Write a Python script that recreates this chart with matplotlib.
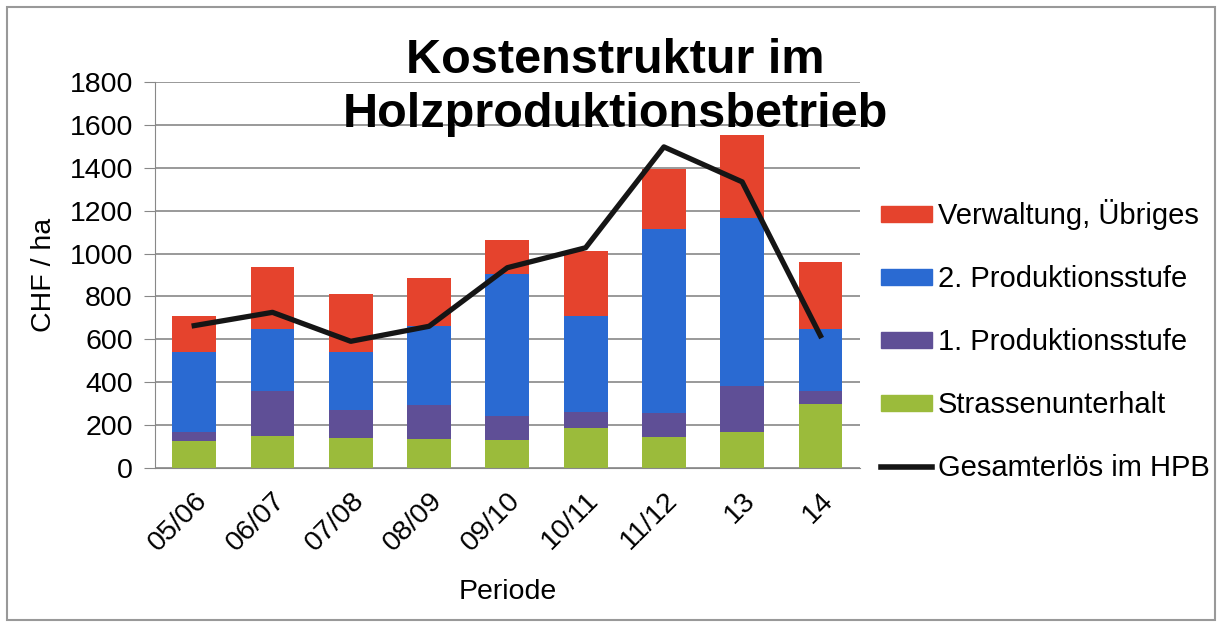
import matplotlib
matplotlib.use("Agg")
import matplotlib.pyplot as plt
from matplotlib.patches import Rectangle
import numpy as np

plt.rcParams['font.family'] = ['Liberation Sans', 'DejaVu Sans']

# data (CHF / ha)
perioden = ['05/06', '06/07', '07/08', '08/09', '09/10', '10/11', '11/12', '13', '14']
strassen = [126, 150, 139, 136, 131, 185, 146, 170, 299]
stufe1 = [44, 210, 132, 159, 112, 78, 113, 213, 61]
stufe2 = [371, 290, 270, 369, 662, 444, 857, 781, 288]
verwaltung = [166, 288, 271, 221, 158, 304, 280, 388, 312]
gesamterloes = [664, 726, 591, 661, 934, 1027, 1497, 1334, 617]

col_green = '#9bbb3b'
col_purple = '#5f4f96'
col_blue = '#2a6ad2'
col_red = '#e5432d'

fig = plt.figure(figsize=(12.21, 6.25), dpi=100)
ax = fig.add_axes([0.127, 0.251, 0.577, 0.618])

x = np.arange(len(perioden))
w = 0.56
b1 = np.array(strassen)
b2 = b1 + np.array(stufe1)
b3 = b2 + np.array(stufe2)
ax.bar(x, strassen, w, color=col_green, zorder=2)
ax.bar(x, stufe1, w, bottom=b1, color=col_purple, zorder=2)
ax.bar(x, stufe2, w, bottom=b2, color=col_blue, zorder=2)
ax.bar(x, verwaltung, w, bottom=b3, color=col_red, zorder=2)
ax.plot(x, gesamterloes, color='#151515', lw=3.8, zorder=3)

ax.set_xlim(-0.5, len(perioden) - 0.5)
ax.set_ylim(0, 1800)
ax.set_yticks(range(0, 1801, 200))
ax.set_xticks(x)
ax.set_xticklabels(perioden, rotation=45, ha='right', rotation_mode='anchor', fontsize=20.5)
ax.tick_params(axis='y', labelsize=20.5, length=8, color='#888888', pad=8)
ax.tick_params(axis='x', length=0, pad=14)
ax.yaxis.grid(True, color='#888888', lw=1.2, zorder=0)
for s in ['top', 'right']:
    ax.spines[s].set_visible(False)
ax.spines['left'].set_color('#888888')
ax.spines['bottom'].set_color('#888888')
ax.set_ylabel('CHF / ha', fontsize=20.5, labelpad=9)
ax.set_xlabel('Periode', fontsize=20.5, labelpad=16)

fig.text(0.504, 0.86, 'Kostenstruktur im\nHolzproduktionsbetrieb', ha='center', va='center',
         fontsize=35, fontweight='bold', linespacing=1.25)

handles = [Rectangle((0, 0), 1, 1, color=col_red),
           Rectangle((0, 0), 1, 1, color=col_blue),
           Rectangle((0, 0), 1, 1, color=col_purple),
           Rectangle((0, 0), 1, 1, color=col_green),
           plt.Line2D([], [], color='#151515', lw=4)]
labels = ['Verwaltung, Übriges', '2. Produktionsstufe', '1. Produktionsstufe',
          'Strassenunterhalt', 'Gesamterlös im HPB']
fig.legend(handles, labels, loc='upper left', bbox_to_anchor=(0.712, 0.70), frameon=False,
           fontsize=21, labelspacing=1.2, handlelength=1.75, handleheight=0.45, handletextpad=0.2,
           borderaxespad=0)

fig.patches.append(Rectangle((0.006, 0.008), 0.989, 0.981, transform=fig.transFigure,
                             fill=False, edgecolor='#999999', lw=1.5))

fig.savefig('out.png', dpi=100)
